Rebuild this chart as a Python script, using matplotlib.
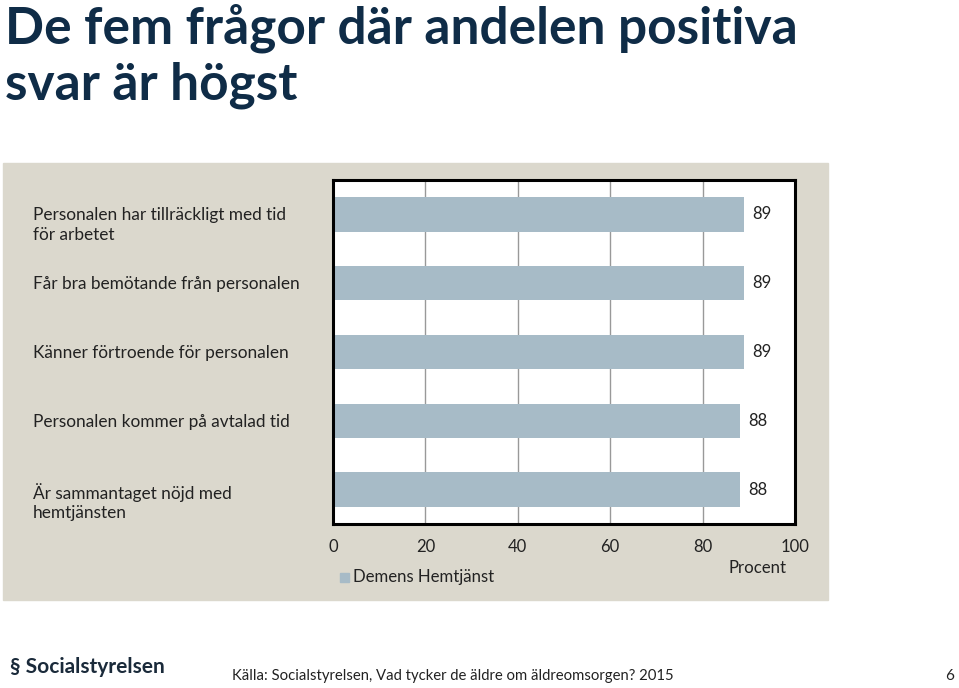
import matplotlib.pyplot as plt
from matplotlib.patches import Rectangle

# data
fragor = ["Personalen har tillräckligt med tid\nför arbetet",
          "Får bra bemötande från personalen",
          "Känner förtroende för personalen",
          "Personalen kommer på avtalad tid",
          "Är sammantaget nöjd med\nhemtjänsten"]
andel = [89, 89, 89, 88, 88]
xticks = [0, 20, 40, 60, 80, 100]
serie = "Demens Hemtjänst"

plt.rcParams['font.family'] = ['Lato', 'DejaVu Sans']

fig = plt.figure(figsize=(9.59, 6.88), dpi=100)
W, H = 959, 688

# grå bakgrundsruta
fig.patches.append(Rectangle((3 / W, 1 - 600 / H), 825 / W, 437 / H,
                             transform=fig.transFigure, color="#dbd8cd", zorder=-5))

# titel
fig.text(5 / W, 1 - 28 / H, "De fem frågor där andelen positiva", fontsize=37,
         fontweight="bold", color="#0f2c47", va="center")
fig.text(5 / W, 1 - 85 / H, "svar är högst", fontsize=37,
         fontweight="bold", color="#0f2c47", va="center")

ax = fig.add_axes([333 / W, 1 - 524 / H, 462 / W, 344 / H])
ax.set_facecolor("white")
y = list(range(len(fragor)))
ax.barh(y, andel, height=0.5, color="#a7bbc7", zorder=2)
for yi, v in zip(y, andel):
    ax.text(v + 1.8, yi, str(v), va="center", ha="left", fontsize=12, color="#222222")
ax.set_xlim(0, 100)
ax.set_ylim(len(fragor) - 0.5, -0.5)
ax.set_xticks(xticks)
ax.set_xticklabels([str(t) for t in xticks], fontsize=12, color="#222222")
ax.tick_params(axis="x", length=0, pad=11)
ax.set_yticks([])
ax.grid(axis="x", color="#999999", linewidth=1, zorder=1)
for s in ax.spines.values():
    s.set_linewidth(2.2)
    s.set_color("black")
    s.set_zorder(3)

# kategoritexter: första raden i höjd med stapeln
for yi, txt in zip(y, fragor):
    ypix = 180 + (yi + 0.5) * 344 / 5
    fig.text(33 / W, 1 - (ypix - 7) / H, txt, fontsize=12.4, color="#222222",
             va="top", ha="left", linespacing=1.25)

# legend och axeltitel
fig.patches.append(Rectangle((340 / W, 1 - 582 / H), 9 / W, 9 / H,
                             transform=fig.transFigure, color="#a7bbc7"))
fig.text(353 / W, 1 - 577 / H, serie, fontsize=12.1, color="#222222", va="center")
fig.text(786 / W, 1 - 568 / H, "Procent", fontsize=12.1, color="#222222",
         va="center", ha="right")

# sidfot
fig.text(10 / W, 1 - 667 / H, "\u00a7 Socialstyrelsen", fontsize=15, fontweight="bold",
         color="#1a2a3a", va="center")
fig.text(232 / W, 1 - 676 / H, "Källa: Socialstyrelsen, Vad tycker de äldre om äldreomsorgen? 2015",
         fontsize=10.7, color="#222222", va="center")
fig.text(954 / W, 1 - 676 / H, "6", fontsize=11, color="#222222", va="center", ha="right")

fig.savefig("out.png", dpi=100)
